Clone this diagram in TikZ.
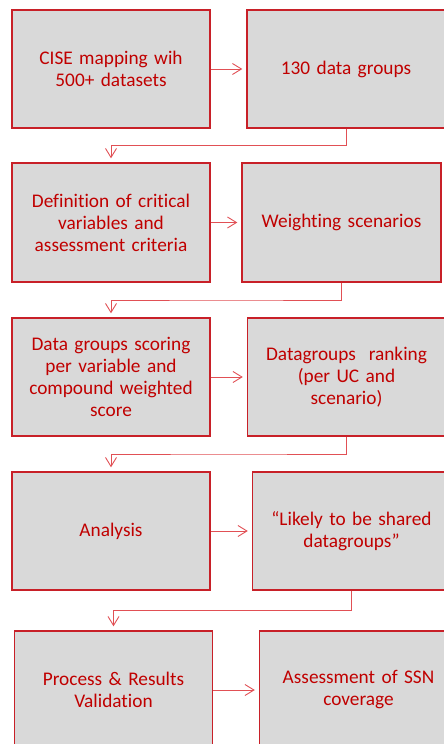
\documentclass[tikz,border=0pt]{standalone}
\usepackage{fontspec}
\setmainfont{Carlito}[Ligatures=NoCommon]
\usetikzlibrary{arrows.meta,calc}
\definecolor{boxred}{RGB}{200,32,40}
\definecolor{txtred}{RGB}{192,0,0}
\definecolor{linered}{RGB}{225,80,85}
\definecolor{boxfill}{RGB}{217,217,217}
\tikzset{
  stepbox/.style={draw=boxred, line width=1.4pt, fill=boxfill, rectangle,
    minimum width=198pt, minimum height=118pt, inner sep=4pt,
    align=center, text width=190pt, text=txtred,
    font=\fontsize{19.3pt}{22pt}\selectfont},
  conn/.style={draw=linered, line width=0.9pt,
    -{Straight Barb[length=9pt,width=11pt,line width=0.9pt]}, shorten >=4pt}
}
\begin{document}
\begin{tikzpicture}[x=1pt,y=-1pt]
\useasboundingbox (0,0) rectangle (444,744);
\node[stepbox] (a1) at (111,69) {CISE mapping wih\\500+ datasets};
\node[stepbox] (b1) at (346,69) {130 data groups};
\node[stepbox, minimum height=119pt] (a2) at (111,222.5) {Definition of critical\\variables and\\assessment criteria};
\node[stepbox, minimum height=119pt, minimum width=199pt] (b2) at (341.5,222.5) {Weighting scenarios};
\node[stepbox] (a3) at (111,377) {Data groups scoring\\per variable and\\compound weighted\\score};
\node[stepbox] (b3) at (346.5,377) {Datagroups~ ranking\\(per UC and\\scenario)};
\node[stepbox] (a4) at (111,531) {Analysis};
\node[stepbox] (b4) at (351.5,531) {“Likely to be shared\\datagroups”};
\node[stepbox] (a5) at (113.5,690) {Process \& Results\\Validation};
\node[stepbox] (b5) at (358.5,690) {Assessment of SSN\\coverage};
\draw[conn] (a1.east) -- (b1.west);
\draw[conn] (a2.east) -- (b2.west);
\draw[conn] (a3.east) -- (b3.west);
\draw[conn] (a4.east) -- (b4.west);
\draw[conn] (a5.east) -- (b5.west);
\draw[conn] (b1.south) |- ($(b1.south)!.5!(a2.north)$) -| (a2.north);
\draw[conn] (b2.south) |- ($(b2.south)!.5!(a3.north)$) -| (a3.north);
\draw[conn] (b3.south) |- ($(b3.south)!.5!(a4.north)$) -| (a4.north);
\draw[conn] (b4.south) |- ($(b4.south)!.5!(a5.north)$) -| (a5.north);
\end{tikzpicture}
\end{document}
